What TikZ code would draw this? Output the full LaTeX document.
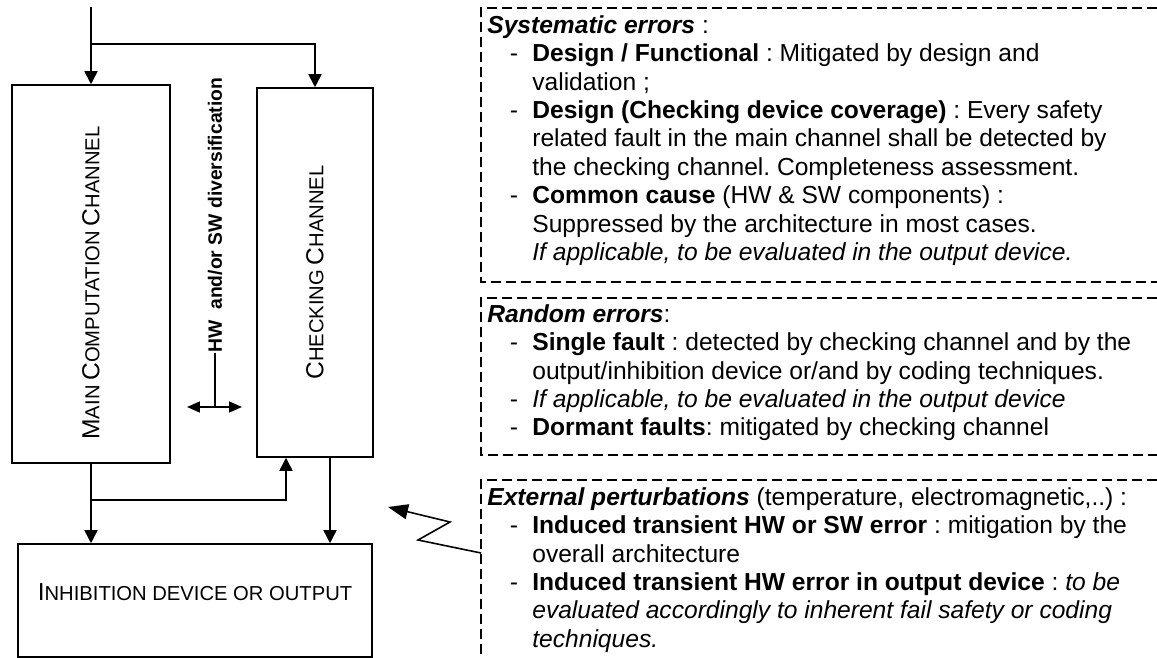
\documentclass[tikz,border=0pt]{standalone}
\usepackage{fontspec}
\setmainfont{Liberation Sans}
\usepackage{tikz}
\usetikzlibrary{arrows.meta,positioning,calc}

% small caps as drawn in the figure: big first letter, small rest
\newcommand{\capsc}[2]{{\fontsize{14}{16}\selectfont #1}{\fontsize{11.5}{14}\selectfont #2}}
\newcommand{\dashitem}{\makebox[0.9cm][l]{\hspace{0.45cm}-}}
\newcommand{\cont}{\hspace*{0.9cm}}

\tikzset{
  block/.style={draw, line width=0.9pt, inner sep=0pt},
  arr/.style={line width=0.9pt, -{Triangle[length=0.26cm,width=0.26cm]}},
  dblarr/.style={line width=0.9pt, {Triangle[length=0.26cm,width=0.22cm]}-{Triangle[length=0.26cm,width=0.22cm]}},
  dashbox/.style={line width=1.1pt, dash pattern=on 0.2cm off 0.1cm},
  note/.style={anchor=north west, inner sep=0pt, align=left,
    font=\fontsize{14}{16.16}\selectfont\frenchspacing}
}

\begin{document}
\begin{tikzpicture}[x=0.02cm, y=-0.02cm]
  \useasboundingbox (0,0) rectangle (1157,658);

  % Channels
  \node[block, minimum width=3.16cm, minimum height=7.56cm,
    label={[yshift=-0.18cm,rotate=90]center:\capsc{M}{AIN} \capsc{C}{OMPUTATION} \capsc{C}{HANNEL}}] (main) at (91,274) {};
  \node[block, minimum width=2.32cm, minimum height=7.38cm,
    label={[rotate=90]center:\capsc{C}{HECKING} \capsc{C}{HANNEL}}] (check) at (315,272.5) {};
  % Output device
  \node[block, minimum width=7.08cm, minimum height=2.26cm,
    label={[yshift=0.16cm]center:\capsc{I}{NHIBITION DEVICE OR OUTPUT}}] (out) at (195,600.5) {};

  % Input split
  \coordinate (in) at (91,7);
  \coordinate (split) at (91,44);
  \draw[arr] (in) -- (main.north);
  \draw[arr] (split) -| (check.north);

  % Main channel to output and to checking channel
  \draw[arr] (main.south) -- (main.south |- out.north);
  \coordinate (mjoin) at (91,500);
  \draw[arr] (mjoin) -| ([xshift=-0.58cm]check.south);
  % Checking channel to output
  \draw[arr] ([xshift=0.3cm]check.south) -- ([xshift=0.3cm]check.south |- out.north);

  % Diversification
  \node[rotate=90, anchor=west, inner sep=0pt, font=\fontsize{11}{13}\bfseries\selectfont] (hw) at (215,353)
    {HW\ \ and/or SW diversification};
  \coordinate (hwmid) at (215,407);
  \coordinate (hwl) at (187,407);
  \coordinate (hwr) at (242,407);
  \draw[line width=0.9pt] (hw.west) -- (hwmid);
  \draw[dblarr] (hwl) -- (hwr);

  % Dashed note frames
  \draw[dashbox] (1157,8) -- (481,8) -- (481,282) -- (1157,282);
  \draw[dashbox] (1157,298) -- (481,298) -- (481,455) -- (1157,455);
  \draw[dashbox] (1157,480) -- (481,480) -- (481,658);

  % Notes
  \node[note] (syst) at (487,13.1) {\strut\textbf{\textit{Systematic errors}} :\\
    \dashitem\textbf{Design / Functional} : Mitigated by design and\\
    \cont validation ;\\
    \dashitem\textbf{Design (Checking device coverage)} : Every safety\\
    \cont related fault in the main channel shall be detected by\\
    \cont the checking channel. Completeness assessment.\\
    \dashitem\textbf{Common cause} (HW \& SW components) :\\
    \cont Suppressed by the architecture in most cases.\\
    \cont\textit{If applicable, to be evaluated in the output device.}};
  \node[note] (rand) at (487,302) {\strut\textbf{\textit{Random errors}}:\\
    \dashitem\textbf{Single fault} : detected by checking channel and by the\\
    \cont output/inhibition device or/and by coding techniques.\\
    \dashitem\textit{If applicable, to be evaluated in the output device}\\
    \dashitem\textbf{Dormant faults}: mitigated by checking channel};
  \node[note] (ext) at (487,485) {\strut\textbf{\textit{External perturbations}} (temperature, electromagnetic,..) :\\
    \dashitem\textbf{Induced transient HW or SW error} : mitigation by the\\
    \cont overall architecture\\
    \dashitem\textbf{Induced transient HW error in output device} : \textit{to be}\\
    \cont\textit{evaluated accordingly to inherent fail safety or coding}\\
    \cont\textit{techniques.}};

  % Perturbation zigzag
  \coordinate (zzstart) at (481,553);
  \coordinate (zztip) at (388,507);
  \draw[line width=0.9pt, -{Triangle[length=0.4cm,width=0.3cm]}] (zzstart) -- (418,540) -- (450,522) -- (zztip);
\end{tikzpicture}
\end{document}
